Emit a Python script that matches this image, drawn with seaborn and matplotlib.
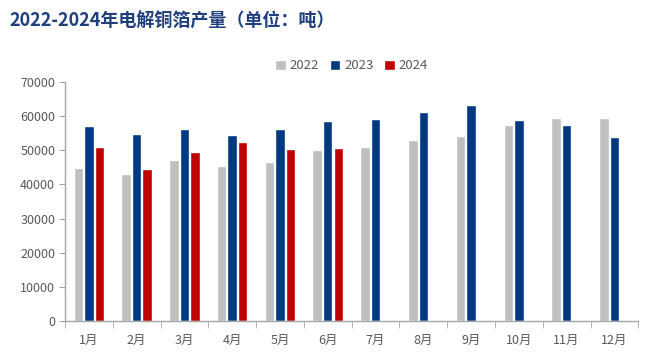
import numpy as np
import pandas as pd
import matplotlib
matplotlib.use("Agg")
import matplotlib.pyplot as plt
from matplotlib.ticker import FixedLocator
import seaborn as sns

# ---------------- Data ----------------
months = ["1月", "2月", "3月", "4月", "5月", "6月",
          "7月", "8月", "9月", "10月", "11月", "12月"]
y2022 = [44700, 42900, 47100, 45300, 46500, 50000,
         50900, 52900, 54100, 57400, 59400, 59400]
y2023 = [57100, 54700, 56200, 54400, 56200, 58500,
         59100, 61200, 63200, 58800, 57400, 53800]
y2024 = [50900, 44400, 49400, 52400, 50300, 50600,
         np.nan, np.nan, np.nan, np.nan, np.nan, np.nan]
years = ["2022", "2023", "2024"]
colors = ["#BFBFBF", "#003882", "#C00000"]

df = pd.DataFrame({
    "month": months * 3,
    "year": [years[0]] * 12 + [years[1]] * 12 + [years[2]] * 12,
    "value": y2022 + y2023 + y2024,
})

# ---------------- Plot ----------------
sns.set_style("white")
plt.rcParams["font.family"] = ["Noto Sans CJK SC", "DejaVu Sans"]

fig = plt.figure(figsize=(6.56, 3.62), dpi=100)
ax = fig.add_axes([0.099, 0.113, 0.874, 0.661])

sns.barplot(data=df, x="month", y="value", hue="year", order=months,
            hue_order=years, palette=colors, width=0.66, gap=0.1,
            saturation=1, errorbar=None, ax=ax)

ax.set_xlim(-0.5, 11.5)
ax.set_ylim(0, 70000)
ax.set_yticks(range(0, 70001, 10000))
ax.set_xlabel("")
ax.set_ylabel("")

axis_gray = "#A6A6A6"
text_gray = "#595959"
for side in ["top", "right"]:
    ax.spines[side].set_visible(False)
for side in ["left", "bottom"]:
    ax.spines[side].set_color(axis_gray)
    ax.spines[side].set_linewidth(1)

ax.tick_params(axis="y", which="major", left=True, length=4, color=axis_gray,
               labelsize=9, labelcolor=text_gray, pad=3)
ax.tick_params(axis="x", which="major", bottom=False, labelsize=9,
               labelcolor=text_gray, pad=6)
ax.xaxis.set_minor_locator(FixedLocator(np.arange(-0.5, 12, 1)))
ax.tick_params(axis="x", which="minor", bottom=True, length=5, color=axis_gray)

leg = ax.legend(loc="lower center", bbox_to_anchor=(0.5, 0.99), ncol=3,
                frameon=False, fontsize=9.5, handlelength=0.8, handleheight=0.8,
                handletextpad=0.3, columnspacing=0.8)
for t in leg.get_texts():
    t.set_color(text_gray)

fig.text(0.015, 0.94, "2022-2024年电解铜箔产量（单位：吨）", fontsize=13,
         fontweight="bold", color="#1F3F7F", ha="left", va="center")

fig.savefig("out.png", dpi=100)
